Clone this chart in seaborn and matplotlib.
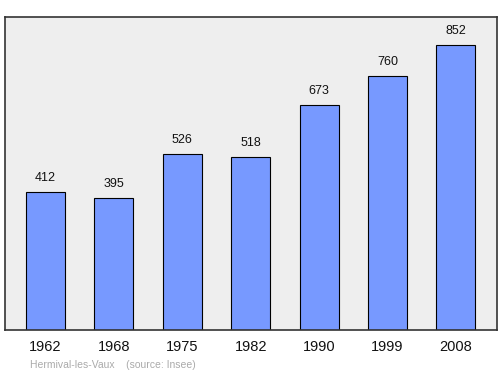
import matplotlib
matplotlib.use("Agg")
import matplotlib.pyplot as plt
import seaborn as sns
import pandas as pd

years = ["1962", "1968", "1975", "1982", "1990", "1999", "2008"]
population = [412, 395, 526, 518, 673, 760, 852]
caption = "Hermival-les-Vaux    (source: Insee)"

df = pd.DataFrame({"year": years, "pop": population})

sns.set_theme(style="white")
plt.rcParams['font.family'] = ['Liberation Sans', 'DejaVu Sans']

fig = plt.figure(figsize=(5.0, 3.74), dpi=100)
ax = fig.add_axes([0.01, 1 - 330 / 374, 0.984, (330 - 17) / 374])
ax.set_facecolor("#eeeeee")

sns.barplot(data=df, x="year", y="pop", ax=ax, color="#7799ff", saturation=1,
            width=0.57, edgecolor="black", linewidth=0.8)

for i, v in enumerate(population):
    ax.text(i, v + 24, str(v), ha="center", va="bottom", fontsize=9, color="#111111")

ax.set_xlim(-0.592, 6.6)
ax.set_ylim(0, 936)
ax.set_yticks([])
ax.set_xlabel("")
ax.set_ylabel("")
ax.tick_params(axis="x", length=0, labelsize=10.5, pad=7, colors="#111111")
for s in ax.spines.values():
    s.set_color("#333333")
    s.set_linewidth(1.2)

fig.text(30 / 500, 1 - 365 / 374, caption, fontsize=7.5, color="#aaaaaa", ha="left", va="center")

fig.savefig("out.png", dpi=100)
